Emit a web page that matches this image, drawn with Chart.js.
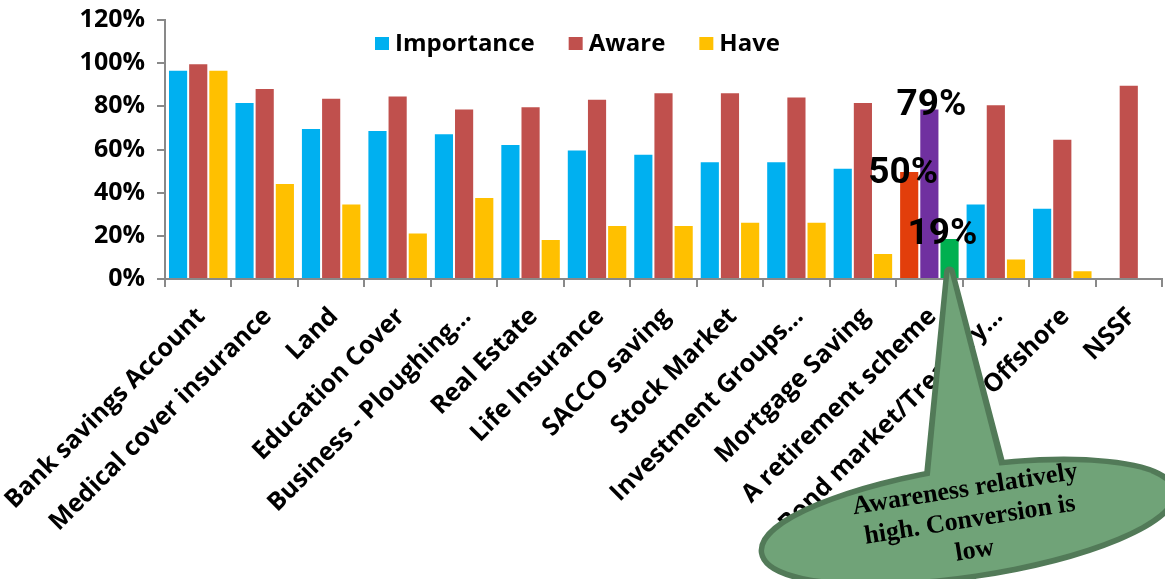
<!DOCTYPE html>
<html>
<head>
<meta charset="utf-8">
<script src="https://cdn.jsdelivr.net/npm/chart.js@4.4.1/dist/chart.umd.min.js"></script>
<style>
  html, body { margin: 0; padding: 0; background: #fff; }
  #wrap { position: relative; width: 1165px; height: 579px; }
</style>
</head>
<body>
<div id="wrap"><canvas id="chart"></canvas></div>
<script>
const categories = [
  "Bank savings Account", "Medical cover insurance", "Land", "Education Cover",
  "Business - Ploughing…", "Real Estate", "Life Insurance", "SACCO saving",
  "Stock Market", "Investment Groups…", "Mortgage Saving", "A retirement scheme",
  "Bond market/Treasury…", "Offshore", "NSSF",
];
const importance = [97, 82, 70, 69, 67.5, 62.5, 60, 58, 54.5, 54.5, 51.5, 50, 35, 33, null];
const aware = [100, 88.5, 84, 85, 79, 80, 83.5, 86.5, 86.5, 84.5, 82, 79, 81, 65, 90];
const have = [97, 44.5, 35, 21.5, 38, 18.5, 25, 25, 26.5, 26.5, 12, 19, 9.5, 4, null];
const yTicks = [0, 20, 40, 60, 80, 100, 120];

const seriesNames = ["Importance", "Aware", "Have"];
const seriesColors = ["#00B0F0", "#C0504D", "#FFC000"];
const highlightCategory = "A retirement scheme";
const highlightColors = ["#E23E0B", "#7030A0", "#00B050"];
const calloutLines = ["Awareness relatively", "high. Conversion is", "low"];

const axisGrey = "#898989";
const highlightIndex = categories.indexOf(highlightCategory);

function barColors(seriesIdx) {
  return categories.map((c, i) => (i === highlightIndex ? highlightColors[seriesIdx] : seriesColors[seriesIdx]));
}

// manual legend, sits inside the plot like the original
const legendPlugin = {
  id: "topLegend",
  afterDraw(chart) {
    const ctx = chart.ctx;
    ctx.save();
    ctx.font = "bold 24px 'Open Sans'";
    ctx.textBaseline = "alphabetic";
    ctx.textAlign = "left";
    let x = 375;
    seriesNames.forEach((name, i) => {
      ctx.fillStyle = seriesColors[i];
      ctx.fillRect(x, 37, 14, 13);
      ctx.fillStyle = "#000";
      ctx.fillText(name, x + 20, 51);
      x += 20 + ctx.measureText(name).width + 34;
    });
    ctx.restore();
  },
};

// big % labels on the highlighted category
const highlightLabelPlugin = {
  id: "highlightLabels",
  afterDatasetsDraw(chart) {
    const ctx = chart.ctx;
    const shifts = [[-6, 12], [2, 7], [-7, 6]];
    ctx.save();
    ctx.font = "bold 37px Roboto";
    ctx.fillStyle = "#000";
    ctx.textAlign = "center";
    ctx.textBaseline = "alphabetic";
    chart.data.datasets.forEach((ds, i) => {
      const bar = chart.getDatasetMeta(i).data[highlightIndex];
      const v = ds.data[highlightIndex];
      ctx.fillText(Math.round(v) + "%", bar.x + shifts[i][0], bar.y + shifts[i][1]);
    });
    ctx.restore();
  },
};

// speech-bubble callout pointing at the "Have" bar of the highlighted category
const calloutPlugin = {
  id: "callout",
  afterDraw(chart) {
    const ctx = chart.ctx;
    const bar = chart.getDatasetMeta(2).data[highlightIndex];
    const tipX = bar.x;
    const tipY = bar.base - 6;
    const cx = 968, cy = 522, rx = 206, ry = 52;
    const rot = -8.5 * Math.PI / 180;

    ctx.save();
    ctx.lineJoin = "round";
    ctx.beginPath();
    ctx.ellipse(cx, cy, rx, ry, rot, 0, Math.PI * 2);
    ctx.moveTo(928, 490);
    ctx.lineTo(tipX, tipY);
    ctx.lineTo(1003, 476);
    ctx.closePath();
    ctx.strokeStyle = "#527A58";
    ctx.lineWidth = 11;
    ctx.stroke();
    ctx.fillStyle = "#70A378";
    ctx.beginPath();
    ctx.ellipse(cx, cy, rx, ry, rot, 0, Math.PI * 2);
    ctx.fill();
    ctx.beginPath();
    ctx.moveTo(928, 495);
    ctx.lineTo(tipX, tipY);
    ctx.lineTo(1003, 480);
    ctx.closePath();
    ctx.fill();

    ctx.translate(971, 527);
    ctx.rotate(-9 * Math.PI / 180);
    ctx.font = "bold 26px 'Liberation Serif'";
    ctx.fillStyle = "#000";
    ctx.textAlign = "center";
    ctx.textBaseline = "alphabetic";
    calloutLines.forEach((line, i) => ctx.fillText(line, 0, (i - 1) * 31));
    ctx.restore();
  },
};

const ctx = document.getElementById("chart").getContext("2d");
new Chart(ctx, {
  type: "bar",
  data: {
    labels: categories,
    datasets: [importance, aware, have].map((values, i) => ({
      label: seriesNames[i],
      data: values,
      backgroundColor: barColors(i),
      borderColor: "rgba(255,255,255,0.45)",
      borderWidth: 1,
      categoryPercentage: 0.91,
      barPercentage: 1,
    })),
  },
  options: {
    responsive: true,
    maintainAspectRatio: false,
    animation: false,
    layout: { padding: { top: 20, right: 3, left: 0, bottom: 0 } },
    plugins: {
      legend: { display: false },
      tooltip: { enabled: false },
    },
    scales: {
      x: {
        grid: { offset: true, drawOnChartArea: false, tickLength: 8, color: axisGrey, lineWidth: 2 },
        border: { color: axisGrey, width: 2 },
        ticks: {
          color: "#000",
          font: { family: "'Open Sans'", size: 25, weight: "bold" },
          maxRotation: 45,
          minRotation: 45,
          autoSkip: false,
          padding: 15,
          labelOffset: 3,
        },
        afterFit: (scale) => {
          scale.height = 300;
          scale.paddingLeft = 0;
          scale.paddingRight = 0;
        },
      },
      y: {
        min: 0,
        max: 120,
        afterBuildTicks: (scale) => { scale.ticks = yTicks.map((v) => ({ value: v })); },
        ticks: {
          color: "#000",
          font: { family: "'Open Sans'", size: 25, weight: "bold" },
          padding: 12,
          callback: (v) => v + "%",
        },
        grid: { drawOnChartArea: false, tickLength: 8, color: axisGrey, lineWidth: 2 },
        border: { color: axisGrey, width: 2 },
        afterFit: (scale) => {
          scale.width = 165;
          scale.paddingTop = 0;
          scale.paddingBottom = 0;
        },
      },
    },
  },
  plugins: [legendPlugin, highlightLabelPlugin, calloutPlugin],
});
</script>
</body>
</html>
